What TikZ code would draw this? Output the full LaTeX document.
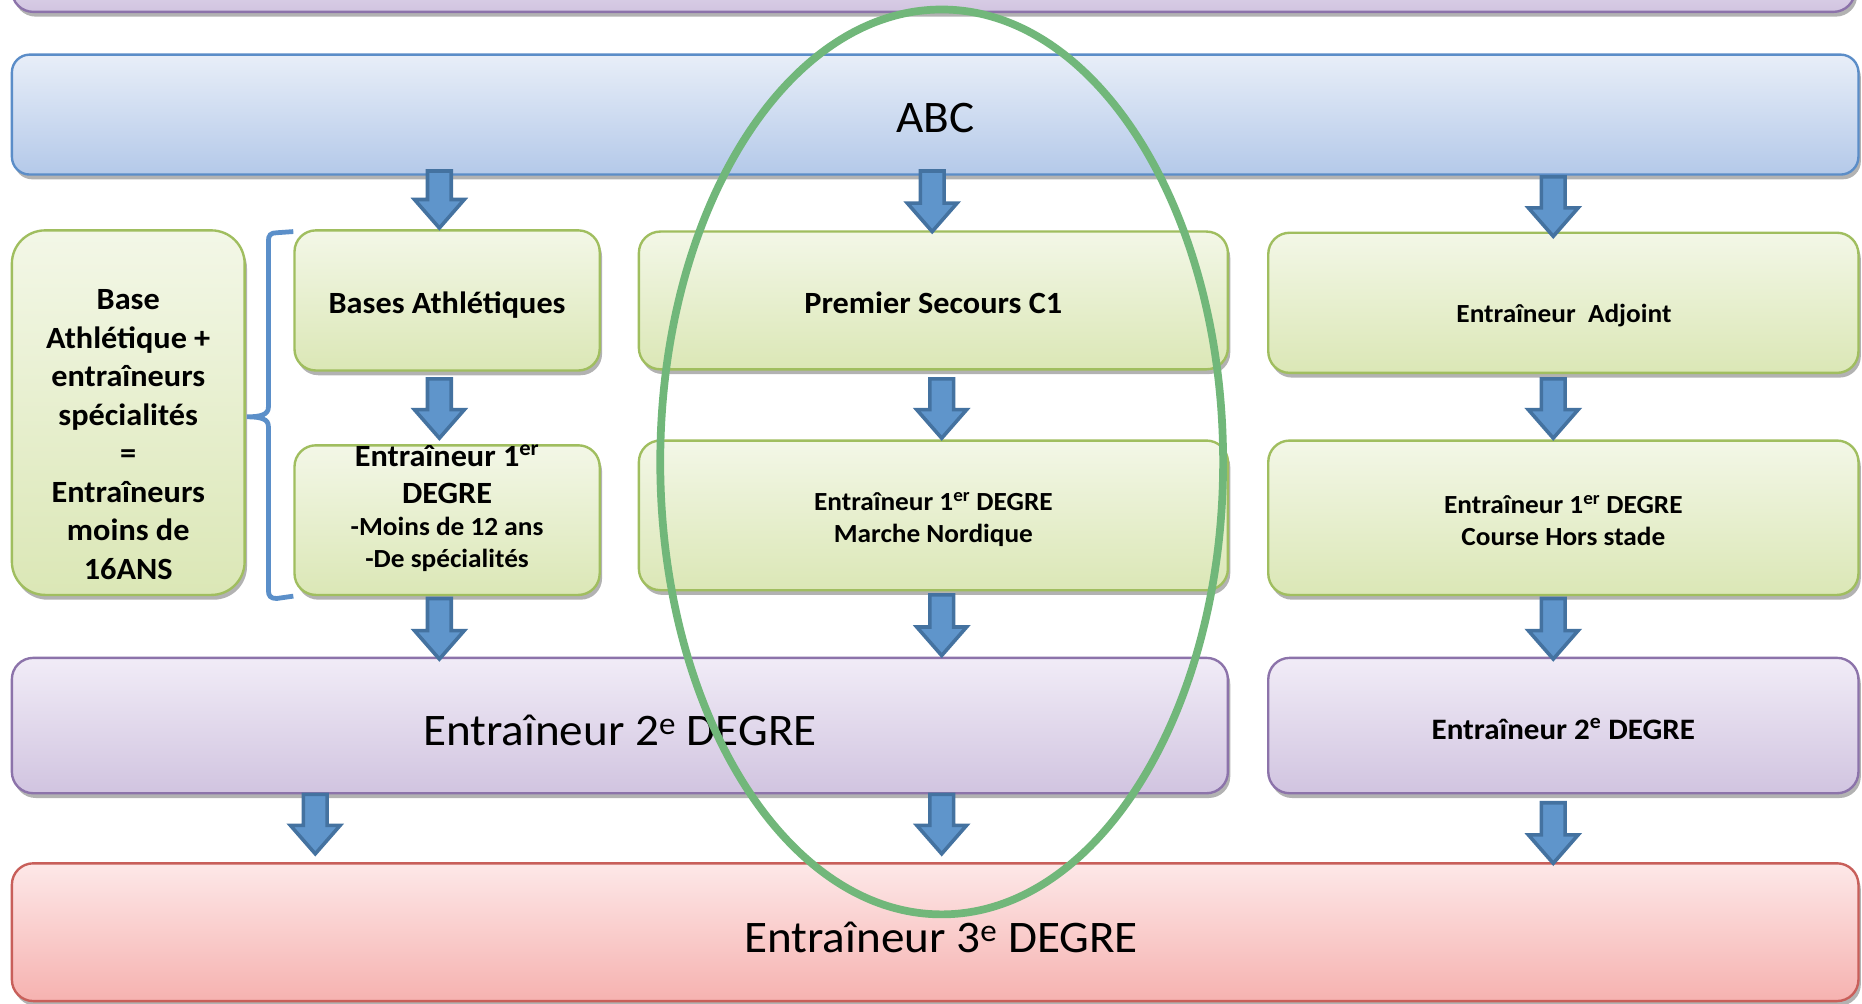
\documentclass[tikz,border=0pt]{standalone}
\usepackage{fontspec}
\setmainfont{Carlito}[FakeStretch=1.045]
\usetikzlibrary{calc,shadows,shapes.geometric}
\definecolor{gtop}{RGB}{243,247,231}
\definecolor{gbot}{RGB}{219,231,182}
\definecolor{gbord}{RGB}{160,190,95}
\definecolor{btop}{RGB}{232,238,248}
\definecolor{bbot}{RGB}{180,201,233}
\definecolor{bbord}{RGB}{91,141,200}
\definecolor{ptop}{RGB}{241,236,247}
\definecolor{pbot}{RGB}{209,196,224}
\definecolor{pbord}{RGB}{140,115,170}
\definecolor{rtop}{RGB}{253,232,232}
\definecolor{rbot}{RGB}{246,178,176}
\definecolor{rbord}{RGB}{200,95,90}
\definecolor{arrfill}{RGB}{95,149,203}
\definecolor{arrdraw}{RGB}{68,114,160}
\definecolor{ellg}{RGB}{113,183,122}
\definecolor{brk}{RGB}{91,143,201}
\newcommand\mybig{\fontsize{38}{44}\selectfont}
\newcommand\mymed{\fontsize{26}{32.4}\selectfont\bfseries}
\newcommand\mysml{\fontsize{22}{27.5}\selectfont\bfseries}
\newcommand\mypur{\fontsize{25}{30}\selectfont\bfseries}
\tikzset{
  box/.style={rounded corners=18pt, line width=2pt, inner sep=0pt,
    drop shadow={shadow xshift=2pt, shadow yshift=-4pt, opacity=0.3, fill=black}},
  gbox/.style={box, draw=gbord, top color=gtop, bottom color=gbot},
  bbox/.style={box, draw=bbord, top color=btop, bottom color=bbot},
  pbox/.style={box, draw=pbord, top color=ptop, bottom color=pbot},
  rbox/.style={box, draw=rbord, top color=rtop, bottom color=rbot},
  txt/.style={inner sep=0pt, align=center, text=black},
  barrow/.style={fill=arrfill, draw=arrdraw, line width=3pt, line join=miter},
  brace/.style={draw=brk, line width=4pt},
  hilite/.style={ellipse, draw=ellg, line width=6.5pt, inner sep=0pt}
}
\newcommand\blockarrow[2]{%
  \draw[barrow] let \p1=#1, \p2=#2 in
    (\x1-10pt,\y1) -- (\x1+10pt,\y1) -- (\x1+10pt,\y2+24pt) -- (\x1+21pt,\y2+24pt)
    -- (\x1,\y2) -- (\x1-21pt,\y2+24pt) -- (\x1-10pt,\y2+24pt) -- cycle;}
\begin{document}
\begin{tikzpicture}[x=1pt,y=1pt]
\useasboundingbox (0,0) rectangle (1568,-845);
\fill[white] (0,0) rectangle (1568,-845);

% boxes
\node[pbox, minimum width=1552pt, minimum height=60pt] (topbar) at (786,20) {};
\node[bbox, rounded corners=15pt, minimum width=1555pt, minimum height=101pt] (abc) at (787.5,-96.5) {};
\node[txt, font=\mybig] (abctxt) at ($(abc)+(0,-3)$) {ABC};

\node[gbox, rounded corners=28pt, minimum width=196pt, minimum height=307pt] (left) at (108,-347.5) {};
\node[txt, font=\mymed] (lefttxt) at (108,-366) {Base\\Athlétique +\\entraîneurs\\spécialités\\=\\Entraîneurs\\moins de\\16ANS};

\node[gbox, minimum width=257pt, minimum height=118pt] (b1) at (376.5,-253) {};
\node[txt, font=\mymed] (b1txt) at ($(b1)+(0,-4)$) {Bases Athlétiques};
\node[gbox, minimum width=257pt, minimum height=126pt] (b2) at (376.5,-438) {};
\node[txt, font=\mymed] (b2txt) at (376.5,-428) {Entraîneur 1\textsuperscript{er}\\[-1.4pt]DEGRE\\[-5pt]{\mysml -Moins de 12 ans}\\[-6pt]{\mysml -De spécialités}};

\node[gbox, minimum width=496pt, minimum height=116pt] (m1) at (786,-253) {};
\node[txt, font=\mymed] (m1txt) at ($(m1)+(0,-2)$) {Premier Secours C1};
\node[gbox, minimum width=496pt, minimum height=126pt] (m2) at (786,-434) {};
\node[txt, font=\mysml] (m2txt) at ($(m2)+(0,-3.5)$) {Entraîneur 1\textsuperscript{er} DEGRE\\Marche Nordique};

\node[gbox, minimum width=497pt, minimum height=118pt] (r1) at (1316.5,-255) {};
\node[txt, font=\mysml] (r1txt) at (1317,-266) {Entraîneur\ \ Adjoint};
\node[gbox, minimum width=497pt, minimum height=130pt] (r2) at (1316.5,-436) {};
\node[txt, font=\mysml] (r2txt) at ($(r2)+(0,-2.5)$) {Entraîneur 1\textsuperscript{er} DEGRE\\Course Hors stade};

\node[pbox, minimum width=1024pt, minimum height=114pt] (e2) at (522,-611) {};
\node[txt, font=\mybig] (e2txt) at (522,-615) {Entraîneur 2\textsuperscript{e} DEGRE};
\node[pbox, minimum width=497pt, minimum height=114pt] (r3) at (1316.5,-611) {};
\node[txt, font=\mypur] (r3txt) at ($(r3)+(0,-3)$) {Entraîneur 2\textsuperscript{e} DEGRE};

\node[rbox, minimum width=1555pt, minimum height=116pt] (e3) at (787.5,-785) {};
\node[txt, font=\mybig] (e3txt) at (792.5,-789) {Entraîneur 3\textsuperscript{e} DEGRE};

% bracket
\draw[brace] (b1.north west) ++(0,-2) -- (233,-196) .. controls (228,-196) and (226,-198) .. (226,-203)
  -- (226,-343) .. controls (226,-349) and (220,-351) .. (208,-351)
  .. controls (220,-351) and (226,-353) .. (226,-359)
  -- (226,-497) .. controls (226,-502) and (228,-504) .. (233,-504) -- (b2.south west);

% arrows
\blockarrow{($(abc.south)+(-417.5,4)$)}{($(b1.north)+(0,1)$)}
\blockarrow{($(abc.south)+(-2.5,4)$)}{($(m1.north)+(0,-1)$)}
\blockarrow{($(abc.south)+(520.5,-1)$)}{($(r1.north)+(0,-4)$)}
\blockarrow{($(b1.south)+(-6.5,-6)$)}{($(b2.north)+(0,5)$)}
\blockarrow{($(m1.south)+(7,-7)$)}{($(m2.north)+(0,1)$)}
\blockarrow{($(r1.south)+(-8.5,-4)$)}{($(r2.north)+(0,1)$)}
\blockarrow{($(b2.south)+(-6.5,-2)$)}{($(e2.north)+(0,-2)$)}
\blockarrow{($(m2.south)+(7,-3)$)}{($(e2.north)+(0,1)$)}
\blockarrow{($(r2.south)+(-8.5,-2)$)}{($(r3.north)+(0,-2)$)}
\blockarrow{($(e2.south west)!0.25!(e2.south east)$)}{($(e3.north)+(0,7)$)}
\blockarrow{($(e2.south)+(271,0)$)}{($(e3.north)+(0,7)$)}
\blockarrow{($(r3.south)+(-8.5,-7)$)}{($(e3.north)+(0,-1)$)}

% highlight ellipse
\node[hilite, minimum width=474pt, minimum height=762pt] (hl) at (793,-389) {};
\end{tikzpicture}
\end{document}
